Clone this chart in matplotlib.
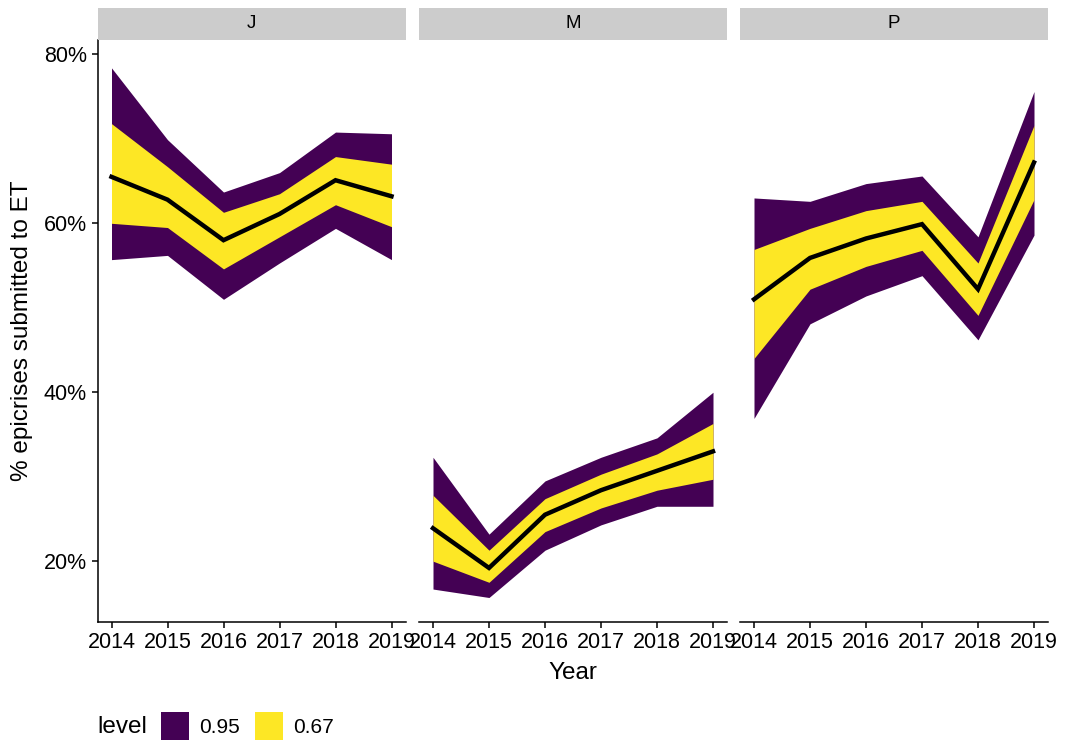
import numpy as np
import matplotlib
matplotlib.use("Agg")
import matplotlib.pyplot as plt
from matplotlib.patches import Patch

plt.rcParams['font.family'] = ['Liberation Sans', 'DejaVu Sans']

# ---------------- datos ----------------
years = [2014, 2015, 2016, 2017, 2018, 2019]
panels = ["J", "M", "P"]

J_mean = [65.5, 62.8, 58.0, 61.1, 65.1, 63.2]
J_lo67 = [60.0, 59.5, 54.6, 58.4, 62.2, 59.6]
J_hi67 = [71.8, 66.7, 61.3, 63.5, 67.9, 67.0]
J_lo95 = [55.7, 56.2, 51.0, 55.3, 59.4, 55.7]
J_hi95 = [78.4, 69.9, 63.7, 66.0, 70.8, 70.6]

M_mean = [23.9, 19.2, 25.5, 28.4, 30.7, 33.0]
M_lo67 = [20.0, 17.5, 23.5, 26.3, 28.4, 29.7]
M_hi67 = [27.8, 21.3, 27.4, 30.3, 32.7, 36.3]
M_lo95 = [16.7, 15.7, 21.3, 24.3, 26.5, 26.5]
M_hi95 = [32.3, 23.2, 29.5, 32.3, 34.6, 40.0]

P_mean = [51.0, 55.9, 58.2, 59.9, 52.2, 67.2]
P_lo67 = [44.0, 52.2, 54.9, 56.8, 49.1, 62.8]
P_hi67 = [56.9, 59.4, 61.5, 62.6, 55.3, 71.6]
P_lo95 = [36.9, 48.1, 51.4, 53.8, 46.2, 58.6]
P_hi95 = [63.0, 62.6, 64.7, 65.6, 58.4, 75.6]

data = {
    "J": (J_mean, J_lo67, J_hi67, J_lo95, J_hi95),
    "M": (M_mean, M_lo67, M_hi67, M_lo95, M_hi95),
    "P": (P_mean, P_lo67, P_hi67, P_lo95, P_hi95),
}

levels = ["0.95", "0.67"]
col95 = "#440154"
col67 = "#FDE725"
yticks = [20, 40, 60, 80]

# ---------------- figura ----------------
W, H = 1066, 742
fig = plt.figure(figsize=(W / 100, H / 100), dpi=100)

lefts = [97.5, 419, 740]
pw = 308
top, bottom = 40, 622

for i, name in enumerate(panels):
    mean, lo67, hi67, lo95, hi95 = data[name]
    ax = fig.add_axes([lefts[i] / W, (H - bottom) / H, pw / W, (bottom - top) / H])
    ax.fill_between(years, lo95, hi95, color=col95, lw=0)
    ax.fill_between(years, lo67, hi67, color=col67, lw=0)
    ax.plot(years, mean, color="black", lw=3.2, solid_joinstyle="miter")
    ax.set_xlim(2013.75, 2019.25)
    ax.set_ylim(12.8, 81.7)
    ax.set_xticks(years)
    ax.set_yticks(yticks)
    ax.set_yticklabels([f"{v}%" for v in yticks])
    for s in ["top", "right"]:
        ax.spines[s].set_visible(False)
    ax.spines["bottom"].set_linewidth(1.1)
    ax.spines["left"].set_linewidth(1.1)
    ax.tick_params(axis="both", length=4.5, width=1.1, labelsize=15.5, colors="black")
    ax.tick_params(axis="x", pad=3)
    ax.tick_params(axis="y", pad=3)
    if i > 0:
        ax.spines["left"].set_visible(False)
        ax.tick_params(axis="y", left=False, labelleft=False)

    # strip
    sax = fig.add_axes([lefts[i] / W, (H - 40) / H, pw / W, 32 / H])
    sax.set_facecolor("#CCCCCC")
    sax.set_xticks([])
    sax.set_yticks([])
    for s in sax.spines.values():
        s.set_visible(False)
    sax.text(0.5, 0.5, name, ha="center", va="center", fontsize=13.5, transform=sax.transAxes)

fig.text(22 / W, 1 - 331 / H, "% epicrises submitted to ET", rotation=90,
         ha="center", va="center", fontsize=17.5)
fig.text(573 / W, 1 - 673 / H, "Year", ha="center", va="center", fontsize=17.5)

# leyenda
fig.text(97 / W, 1 - 727 / H, "level", ha="left", va="center", fontsize=17.5)
handles = [Patch(facecolor=col95, edgecolor="none"), Patch(facecolor=col67, edgecolor="none")]
fig.legend(handles, levels, ncol=2, frameon=False, fontsize=15,
           loc="center left", bbox_to_anchor=(161 / W, 1 - 726 / H),
           handlelength=1.35, handleheight=1.75, handletextpad=0.5, columnspacing=0.7,
           borderaxespad=0, borderpad=0)

fig.savefig("out.png", dpi=100)
